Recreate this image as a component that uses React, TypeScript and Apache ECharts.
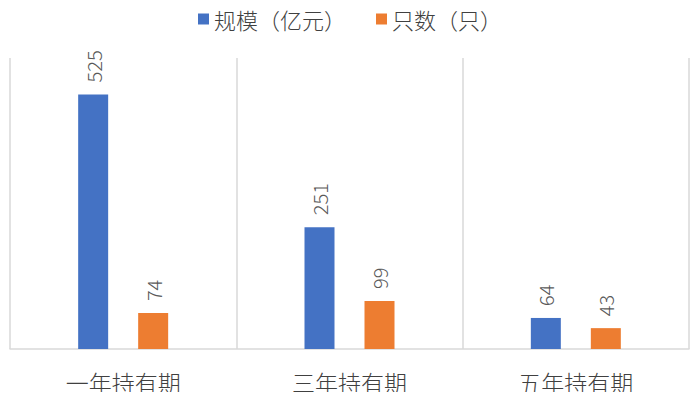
import React, { useEffect, useRef } from 'react';
import * as echarts from 'echarts';

const categories = ['一年持有期', '三年持有期', '五年持有期'];
const scaleValues = [525, 251, 64];
const countValues = [74, 99, 43];
const seriesNames = ['规模（亿元）', '只数（只）'];

const FONT = '"Noto Sans CJK SC", "Noto Sans", sans-serif';

const App: React.FC = () => {
  const chartRef = useRef<HTMLDivElement>(null);

  useEffect(() => {
    if (!chartRef.current) return;
    const chart = echarts.init(chartRef.current, undefined, { renderer: 'svg' });

    const label = {
      show: true,
      position: 'top',
      rotate: 90,
      align: 'left',
      verticalAlign: 'middle',
      distance: 12,
      color: '#595959',
      fontSize: 20,
      fontWeight: 300,
      fontFamily: FONT
    };

    chart.setOption({
      animation: false,
      textStyle: { fontFamily: FONT },
      legend: {
        top: 3,
        left: 'center',
        itemWidth: 11,
        itemHeight: 11,
        itemGap: 30,
        icon: 'rect',
        textStyle: { fontSize: 22, fontWeight: 300, color: '#404040', fontFamily: FONT }
      },
      grid: { left: 10, right: 11, top: 58, bottom: 51 },
      xAxis: {
        type: 'category',
        data: categories,
        axisLine: { lineStyle: { color: '#d9d9d9', width: 1.5 } },
        axisTick: { show: false },
        splitLine: { show: true, lineStyle: { color: '#d9d9d9', width: 1.5 } },
        axisLabel: { fontSize: 23, fontWeight: 300, color: '#404040', margin: 21, fontFamily: FONT }
      },
      yAxis: {
        type: 'value',
        min: 0,
        max: 600,
        show: false
      },
      series: [
        {
          name: seriesNames[0],
          type: 'bar',
          data: scaleValues,
          barWidth: 30,
          barGap: '100%',
          itemStyle: { color: '#4472C4' },
          label
        },
        {
          name: seriesNames[1],
          type: 'bar',
          data: countValues,
          barWidth: 30,
          itemStyle: { color: '#ED7D31' },
          label
        }
      ]
    });

    return () => {
      chart.dispose();
    };
  }, []);

  return <div ref={chartRef} style={{ width: 700, height: 400, margin: -8 }} />;
};

export default App;
